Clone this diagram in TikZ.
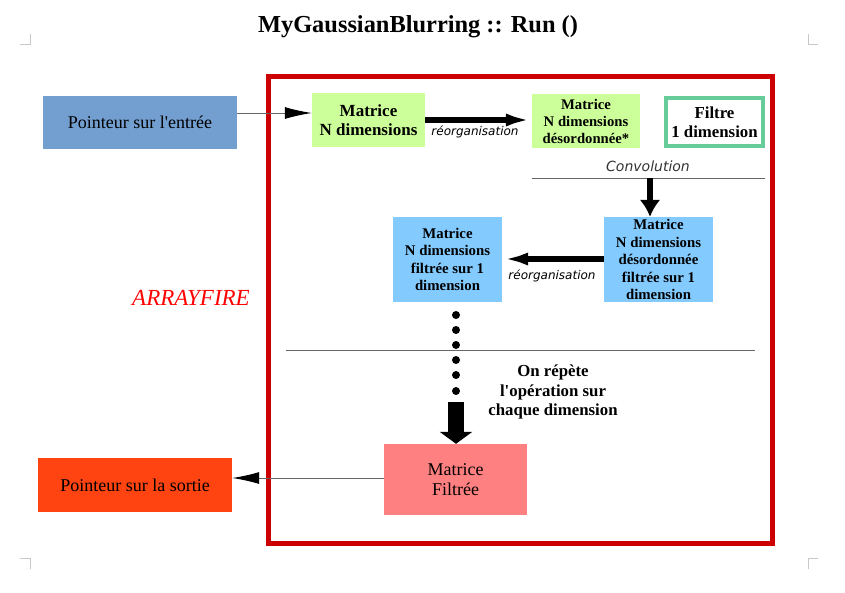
\documentclass[tikz,border=0pt]{standalone}
\usepackage{fontspec}
\setmainfont{Liberation Serif}
\newfontfamily\labelfont{DejaVu Sans}
\usetikzlibrary{arrows.meta}
\definecolor{entreeblue}{HTML}{729FCF}
\definecolor{matgreen}{HTML}{CCFF99}
\definecolor{filtgreen}{HTML}{66CC99}
\definecolor{matblue}{HTML}{83CAFF}
\definecolor{matpink}{HTML}{FF8080}
\definecolor{sortieorange}{HTML}{FF4411}
\definecolor{framered}{HTML}{CC0000}
\definecolor{markgray}{HTML}{C8C8C8}
\newcommand{\fsz}[2]{\fontsize{#1}{#2}\selectfont}

\begin{document}
\begin{tikzpicture}[x=1pt,y=-1pt,
  every node/.style={inner sep=0pt,align=center},
  mat/.style={fill=matgreen,font=\bfseries\fsz{17}{19}},
  matsmall/.style={fill=matgreen,font=\bfseries\fsz{14.7}{17}},
  matb/.style={fill=matblue,font=\bfseries\fsz{14.8}{17.5},minimum width=109,minimum height=85},
  ptr/.style={font=\fsz{18}{20},minimum width=194,minimum height=53},
  thin arrow/.style={draw=black!60,line width=1pt,-{Latex[length=27,width=12,black]}},
  thick arrow/.style={line width=6pt,-{Latex[length=26,width=13]}},
  reorg/.style={font=\labelfont\itshape\fsz{12}{13}}
  ]
\useasboundingbox (0,0) rectangle (845,592);
\foreach \a/\b/\c in {{20,44}/{30,44}/{30,34},{808,34}/{808,44}/{818,44},
  {20,558}/{30,558}/{30,569},{808,569}/{808,558}/{818,558}}
  \draw[markgray,line width=1pt] (\a) -- (\b) -- (\c);
\node (title) at (418,27) {\bfseries\fsz{24.4}{26}MyGaussianBlurring :: Run ()};
\draw[framered,line width=5pt] (268,76) rectangle (772,543);
\node[red,font=\itshape\fsz{23}{25}] (af) at (191,298) {ARRAYFIRE};

\node[ptr,fill=entreeblue] (in) at (140,122) {Pointeur sur l\textquotesingle entrée};
\node[mat,minimum width=113,minimum height=54] (m1) at (368.5,120) {Matrice\\N dimensions};
\node[matsmall,minimum width=108,minimum height=54] (m2) at (586,121) {Matrice\\N dimensions\\désordonnée*};
\node[draw=filtgreen,line width=4pt,fill=white,font=\bfseries\fsz{16.8}{19},
  minimum width=97,minimum height=48] (filt) at (714.5,122) {Filtre\\1 dimension};
\node[matb] (m3) at (658.5,259.5) {Matrice\\N dimensions\\désordonnée\\filtrée sur 1\\dimension};
\node[matb] (m4) at (447.5,259.5) {Matrice\\N dimensions\\filtrée sur 1\\dimension};
\node[fill=matpink,font=\fsz{18}{20},minimum width=143,minimum height=71] (mf) at (455.5,479.5) {Matrice\\Filtrée};
\node[ptr,fill=sortieorange,minimum height=54] (out) at (135,485) {Pointeur sur la sortie};

\draw[thin arrow] (in.east |- 0,113) -- (m1.west |- 0,113);
\draw[thick arrow] (m1.east |- 0,120) -- (m2.west |- 0,120);
\node[reorg] (r1) at (475,132) {réorganisation};

\node[font=\labelfont\itshape\fsz{14}{15},text=black!80] (conv) at (648,166) {Convolution};
\coordinate (cl) at (532,178);
\coordinate (cr) at (765,178);
\draw[black!60,line width=1pt] (cl) -- (cr);
\draw[line width=6pt,-{Latex[length=17,width=21]}] (650,178) -- (m3.north -| 650,0);

\draw[thick arrow] (m3.west |- 0,259) -- (m4.east |- 0,259);
\node[reorg] (r2) at (552,276) {réorganisation};

\foreach \y in {315,330,345,360,375,391}
  \fill (456,\y) circle (4);
\coordinate (sl) at (286,350);
\coordinate (sr) at (755,350);
\draw[black!60,line width=1pt] (sl) -- (sr);
\draw[line width=16pt,-{Triangle[length=12,width=32]}] (456,402) -- (mf.north -| 456,0);
\node[font=\bfseries\fsz{16.8}{19.5}] (rep) at (553,392) {On répète\\l\textquotesingle opération sur\\chaque dimension};

\draw[thin arrow] (mf.west |- 0,478) -- (out.east |- 0,478);
\end{tikzpicture}
\end{document}
